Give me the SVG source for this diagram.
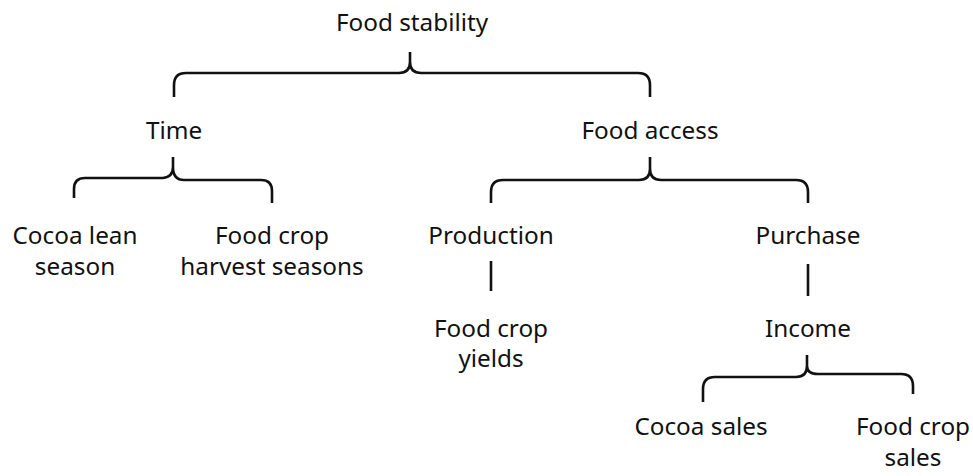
<svg xmlns="http://www.w3.org/2000/svg" width="973" height="476" viewBox="0 0 973 476">
<style>
text{font-family:"Noto Sans","Open Sans","DejaVu Sans",sans-serif;font-size:24.3px;fill:#111;text-anchor:middle}
.c{fill:none;stroke:#111;stroke-width:2.6;stroke-linecap:butt;stroke-linejoin:round}
</style>
<rect width="973" height="476" fill="#fff"/>
<g id="connectors">
<path class="c" d="M174,97 V85 Q174,73 186,73 H399 Q410,73 410,62 V52 M410,62 Q410,73 421,73 H638 Q650,73 650,85 V97"/>
<path class="c" d="M74,198 V189 Q74,178 85,178 H163 Q173,177 173,167 V157 M173,167 Q173,180 184,180 H261 Q272,180 272,191 V203"/>
<path class="c" d="M491,203 V192 Q491,180 503,180 H639 Q650,180 650,169 V157 M650,169 Q650,180 661,180 H796 Q808,180 808,192 V203"/>
<path class="c" d="M491,261 V291"/>
<path class="c" d="M808,264 V296"/>
<path class="c" d="M703,402 V389 Q703,377 715,377 H796 Q807,377 807,366 V355 M807,366 Q807,374 818,374 H901 Q913,374 913,386 V394"/>
</g>
<g id="food-stability"><text x="412" y="31">Food stability</text></g>
<g id="time"><text x="174" y="139">Time</text></g>
<g id="food-access"><text x="650" y="139">Food access</text></g>
<g id="cocoa-lean-season"><text x="75" y="244">Cocoa lean</text><text x="75" y="275">season</text></g>
<g id="food-crop-harvest"><text x="272" y="244">Food crop</text><text x="272" y="275">harvest seasons</text></g>
<g id="production"><text x="491" y="244">Production</text></g>
<g id="purchase"><text x="808" y="244">Purchase</text></g>
<g id="food-crop-yields"><text x="491" y="337">Food crop</text><text x="491" y="367">yields</text></g>
<g id="income"><text x="808" y="337">Income</text></g>
<g id="cocoa-sales"><text x="701" y="435">Cocoa sales</text></g>
<g id="food-crop-sales"><text x="913" y="435">Food crop</text><text x="913" y="466">sales</text></g>
</svg>
